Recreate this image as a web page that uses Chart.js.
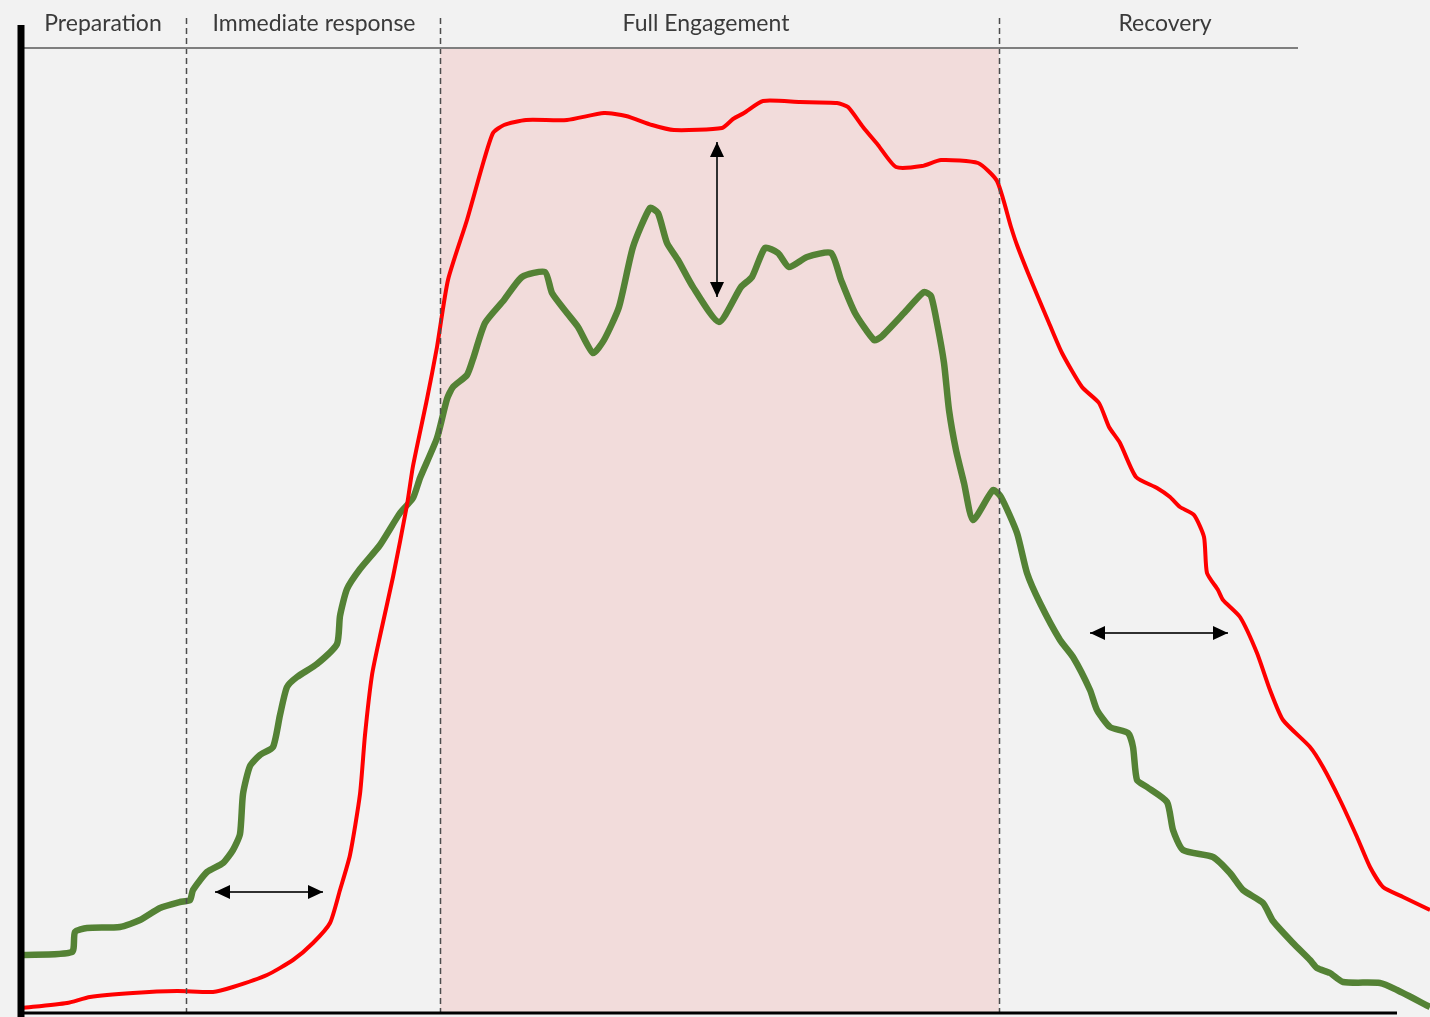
<!DOCTYPE html>
<html>
<head>
<meta charset="utf-8">
<script src="https://cdn.jsdelivr.net/npm/chart.js@4.4.1/dist/chart.umd.min.js"></script>
<style>
html, body { margin: 0; padding: 0; background: #f2f2f2; }
#wrap { width: 1430px; height: 1017px; position: relative; }
</style>
</head>
<body>
<div id="wrap"><canvas id="chart"></canvas></div>
<script>
// phases along the time axis
const phaseNames = ['Preparation', 'Immediate response', 'Full Engagement', 'Recovery'];
const phaseCenters = [8.3, 29.4, 68.6, 114.5];
const phaseBounds = [16.6, 42.0, 97.9];
const headerY = 96.5;
const headerEnd = 127.8;

// red curve
const redX = [0.2, 4.7, 7.0, 11.3, 15.7, 19.3, 21.3, 24.7, 27.3, 29.3, 31.0, 32.0, 33.0, 34.0, 34.5, 35.2, 36.0, 37.3, 38.7, 39.3,
  40.7, 41.7, 42.8, 44.7, 46.2, 47.3, 48.4, 50.6, 54.7, 58.4, 60.6, 63.2, 65.4, 70.2, 71.3, 72.4, 74.3, 78.0, 81.7, 82.8,
  84.3, 85.8, 87.6, 90.2, 92.1, 95.8, 97.7, 99.1, 99.7, 100.8, 101.8, 102.9, 104.2, 106.2, 107.9, 108.9, 110.0, 111.6, 113.7, 115.0,
  116.0, 117.4, 118.4, 118.7, 119.8, 120.3, 122.0, 123.7, 125.0, 126.3, 129.0, 130.3, 132.0, 133.7, 135.0, 136.3, 138.3, 141.0];
const redY = [0.5, 1.0, 1.6, 2.0, 2.2, 2.1, 2.6, 3.8, 5.3, 7.0, 9.0, 12.3, 15.8, 21.9, 27.8, 33.8, 37.7, 43.6, 50.8, 54.7,
  61.4, 66.6, 73.3, 79.3, 84.6, 88.0, 88.8, 89.3, 89.3, 90.0, 89.7, 88.8, 88.3, 88.5, 89.4, 90.0, 91.2, 91.1, 91.0, 90.6,
  88.6, 86.8, 84.6, 84.7, 85.3, 85.0, 83.2, 78.6, 76.8, 74.0, 71.6, 69.0, 66.0, 62.6, 61.0, 58.6, 57.0, 53.6, 52.5, 51.6,
  50.6, 49.8, 47.6, 44.0, 42.3, 41.3, 39.6, 36.0, 32.3, 29.3, 26.6, 24.6, 21.3, 17.6, 14.6, 12.6, 11.6, 10.3];

// green curve
const greenX = [0.2, 5.2, 5.5, 6.7, 10.0, 12.0, 14.0, 16.0, 17.0, 17.3, 18.7, 20.3, 21.3, 22.0, 22.3, 23.0, 24.0, 25.3, 26.0, 26.7,
  27.7, 29.7, 31.7, 32.0, 32.7, 34.0, 36.0, 38.0, 39.3, 40.0, 41.7, 42.7, 43.3, 44.7, 45.3, 46.5, 48.4, 50.2, 52.5, 53.2,
  54.7, 55.8, 57.3, 58.4, 59.9, 61.3, 63.0, 63.8, 64.7, 65.8, 67.3, 69.9, 72.1, 73.2, 74.5, 75.8, 76.9, 78.7, 81.1, 82.1,
  83.5, 85.4, 86.1, 88.4, 90.4, 91.1, 91.7, 92.4, 92.9, 93.6, 94.4, 95.3, 97.3, 98.1, 99.7, 100.7, 102.0, 104.0, 105.3, 107.0,
  107.7, 109.0, 110.8, 111.3, 111.7, 112.7, 114.7, 115.3, 116.3, 119.3, 121.0, 122.3, 124.3, 125.3, 127.3, 129.0, 129.7, 131.0, 132.3, 136.0,
  137.7, 141.0];
const greenY = [5.8, 6.1, 8.1, 8.5, 8.6, 9.3, 10.5, 11.1, 11.3, 12.3, 14.1, 15.0, 16.3, 17.9, 21.9, 24.7, 25.8, 26.6, 29.8, 32.6,
  33.6, 34.9, 36.9, 39.7, 42.4, 44.4, 46.8, 50.0, 51.5, 53.5, 57.5, 61.4, 62.6, 63.8, 65.4, 69.0, 71.3, 73.6, 74.1, 72.0,
  70.0, 68.6, 66.0, 67.3, 70.6, 76.6, 80.5, 80.0, 77.0, 75.3, 72.6, 69.1, 72.6, 73.6, 76.5, 76.0, 74.6, 75.6, 76.0, 73.3,
  70.0, 67.3, 67.6, 70.0, 72.1, 71.7, 69.0, 65.0, 60.3, 56.3, 53.0, 49.3, 52.3, 51.6, 48.0, 44.0, 41.0, 37.3, 35.6, 32.3,
  30.3, 28.6, 28.0, 26.6, 23.3, 22.6, 21.1, 18.3, 16.3, 15.6, 14.0, 12.3, 11.0, 9.2, 7.0, 5.3, 4.5, 4.0, 3.1, 3.0,
  2.3, 0.6];

// double-headed gap arrows
const arrowFromX = [19.5, 69.7, 107.0];
const arrowFromY = [12.1, 87.1, 38.0];
const arrowToX = [30.3, 69.7, 120.8];
const arrowToY = [12.1, 71.6, 38.0];

function toPoints(xs, ys) {
  return xs.map((x, i) => ({ x: x, y: ys[i] }));
}

function arrowHead(ctx, x, y, ang) {
  ctx.save();
  ctx.translate(x, y);
  ctx.rotate(ang);
  ctx.beginPath();
  ctx.moveTo(0, 0);
  ctx.lineTo(-15, -7);
  ctx.lineTo(-15, 7);
  ctx.closePath();
  ctx.fill();
  ctx.restore();
}

const decor = {
  id: 'decor',
  beforeDraw(chart) {
    const ctx = chart.ctx, xs = chart.scales.x, ys = chart.scales.y;
    ctx.save();
    ctx.fillStyle = '#f2f2f2';
    ctx.fillRect(0, 0, chart.width, chart.height);
    const l = xs.getPixelForValue(phaseBounds[1]);
    const r = xs.getPixelForValue(phaseBounds[2]);
    const t = ys.getPixelForValue(headerY);
    const b = ys.getPixelForValue(0);
    ctx.fillStyle = '#f2dcdb';
    ctx.fillRect(l, t, r - l, b - t);
    ctx.restore();
  },
  afterDatasetsDraw(chart) {
    const ctx = chart.ctx, xs = chart.scales.x, ys = chart.scales.y;
    const b = ys.getPixelForValue(0);
    ctx.save();
    // phase dividers
    ctx.strokeStyle = '#4d4d4d';
    ctx.lineWidth = 1.5;
    ctx.setLineDash([6, 4]);
    phaseBounds.forEach(v => {
      const px = Math.round(xs.getPixelForValue(v)) + 0.5;
      ctx.beginPath();
      ctx.moveTo(px, ys.getPixelForValue(99.5));
      ctx.lineTo(px, b);
      ctx.stroke();
    });
    ctx.setLineDash([]);
    // header rule
    ctx.strokeStyle = '#7f7f7f';
    ctx.lineWidth = 2;
    ctx.beginPath();
    ctx.moveTo(xs.getPixelForValue(0), ys.getPixelForValue(headerY));
    ctx.lineTo(xs.getPixelForValue(headerEnd), ys.getPixelForValue(headerY));
    ctx.stroke();
    // phase names
    ctx.fillStyle = '#3a3a3a';
    ctx.font = '23px Lato, "Open Sans", sans-serif';
    ctx.textAlign = 'center';
    ctx.textBaseline = 'alphabetic';
    phaseNames.forEach((n, i) => {
      ctx.fillText(n, xs.getPixelForValue(phaseCenters[i]), ys.getPixelForValue(headerY) - 17);
    });
    // arrows
    ctx.strokeStyle = '#303030';
    ctx.fillStyle = '#000000';
    ctx.lineWidth = 2;
    arrowFromX.forEach((x0, i) => {
      const x1 = xs.getPixelForValue(x0), y1 = ys.getPixelForValue(arrowFromY[i]);
      const x2 = xs.getPixelForValue(arrowToX[i]), y2 = ys.getPixelForValue(arrowToY[i]);
      const ang = Math.atan2(y2 - y1, x2 - x1);
      ctx.beginPath();
      ctx.moveTo(x1, y1);
      ctx.lineTo(x2, y2);
      ctx.stroke();
      arrowHead(ctx, x2, y2, ang);
      arrowHead(ctx, x1, y1, ang + Math.PI);
    });
    ctx.restore();
  },
  afterDraw(chart) {
    const ctx = chart.ctx, xs = chart.scales.x, ys = chart.scales.y;
    const left = xs.getPixelForValue(0), b = ys.getPixelForValue(0);
    ctx.save();
    ctx.strokeStyle = '#000000';
    ctx.lineWidth = 3;
    ctx.beginPath();
    ctx.moveTo(left, b);
    ctx.lineTo(xs.getPixelForValue(137.7), b);
    ctx.stroke();
    ctx.lineWidth = 7;
    ctx.beginPath();
    ctx.moveTo(left + 1, ys.getPixelForValue(98.8));
    ctx.lineTo(left + 1, chart.height);
    ctx.stroke();
    ctx.restore();
  }
};

window.addEventListener('DOMContentLoaded', () => {
  var ctx = document.getElementById('chart').getContext('2d');
  new Chart(ctx, {
    type: 'scatter',
    data: {
      datasets: [{
        label: 'Red',
        data: toPoints(redX, redY),
        showLine: true,
        borderColor: '#ff0000',
        borderWidth: 4,
        pointRadius: 0,
        tension: 0.2
      }, {
        label: 'Green',
        data: toPoints(greenX, greenY),
        showLine: true,
        borderColor: '#548235',
        borderWidth: 6.5,
        pointRadius: 0,
        tension: 0.2
      }]
    },
    options: {
      responsive: true,
      maintainAspectRatio: false,
      animation: false,
      layout: { padding: { left: 20, top: 28, right: 0, bottom: 4 } },
      plugins: {
        legend: { display: false },
        tooltip: { enabled: false }
      },
      scales: {
        x: { type: 'linear', min: 0, max: 141, display: false },
        y: { type: 'linear', min: 0, max: 98.5, display: false }
      }
    },
    plugins: [decor]
  });
});
</script>
</body>
</html>
